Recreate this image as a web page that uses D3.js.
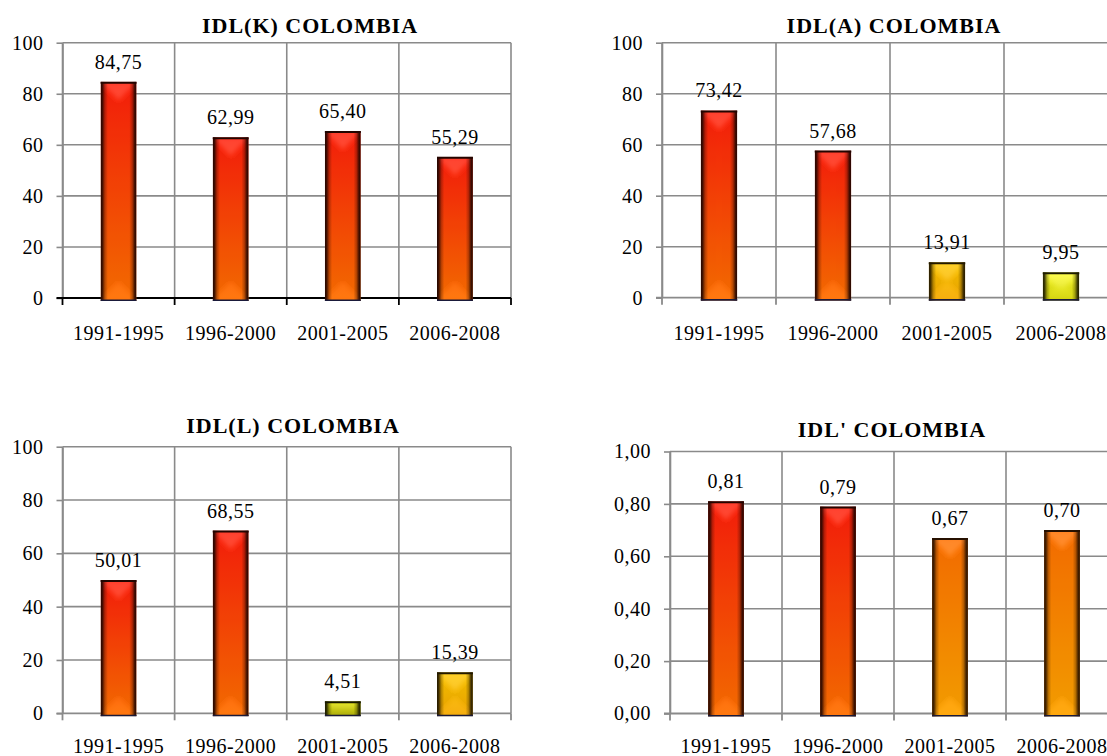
<!DOCTYPE html>
<html>
<head>
<meta charset="utf-8">
<script src="https://cdn.jsdelivr.net/npm/d3@7"></script>
<style>
  html, body { margin: 0; padding: 0; background: #fff; }
  svg { display: block; font-family: "Liberation Serif", "Times New Roman", serif; }
</style>
</head>
<body>
<svg id="chart" width="1107" height="756"></svg>
<script>
// Periods shown on every category axis
const periods = ["1991-1995", "1996-2000", "2001-2005", "2006-2008"];

// Index values per period
const idlK = [84.75, 62.99, 65.40, 55.29];
const idlA = [73.42, 57.68, 13.91, 9.95];
const idlL = [50.01, 68.55, 4.51, 15.39];
const idlPrime = [0.81, 0.79, 0.67, 0.70];

// Value-axis ticks
const pctTicks = [0, 20, 40, 60, 80, 100];
const ratioTicks = [0, 0.2, 0.4, 0.6, 0.8, 1.0];

// Spanish-style number formatting (decimal comma)
const es = d3.formatLocale({ decimal: ",", thousands: ".", grouping: [3], currency: ["", " $"] });
const fmt0 = es.format("d");
const fmt2 = es.format(".2f");

const SERIF = "Liberation Serif";

// Bar fill tones (top -> bottom of the bar)
const tones = {
  red:    { top: "#ff1e0a", bot: "#ff7000", edge: "#220500" },
  orange: { top: "#ff7000", bot: "#ffa400", edge: "#261000" },
  gold:   { top: "#ffc800", bot: "#f5a800", edge: "#221800" },
  yellow: { top: "#ffff30", bot: "#d0d000", edge: "#1e1c00" },
  olive:  { top: "#e6e600", bot: "#a4a400", edge: "#181800" }
};

const panels = [
  { title: "IDL(K) COLOMBIA", values: idlK, ticks: pctTicks, tickFmt: fmt0,
    tones: ["red", "red", "red", "red"],
    box: { l: 62.5, r: 511, t: 42.7, b: 298 }, titleX: 310, titleY: 33, labelY: 340, baseColor: "#000" },
  { title: "IDL(A) COLOMBIA", values: idlA, ticks: pctTicks, tickFmt: fmt0,
    tones: ["red", "red", "gold", "yellow"],
    box: { l: 662, r: 1118, t: 42.7, b: 297.7 }, titleX: 894, titleY: 33, labelY: 340, baseColor: "#8a8a8a" },
  { title: "IDL(L) COLOMBIA", values: idlL, ticks: pctTicks, tickFmt: fmt0,
    tones: ["red", "red", "olive", "gold"],
    box: { l: 62.5, r: 511, t: 446.7, b: 713.3 }, titleX: 293, titleY: 433, labelY: 753, baseColor: "#8a8a8a" },
  { title: "IDL' COLOMBIA", values: idlPrime, ticks: ratioTicks, tickFmt: fmt2,
    tones: ["red", "red", "orange", "orange"],
    box: { l: 670, r: 1118, t: 451.5, b: 713.5 }, titleX: 892, titleY: 437, labelY: 753, baseColor: "#8a8a8a" }
];

const svg = d3.select("#chart");
const defs = svg.append("defs");

// Vertical colour ramps and side shading for each tone
Object.entries(tones).forEach(([name, t]) => {
  const g = defs.append("linearGradient").attr("id", "fill-" + name)
    .attr("x1", 0).attr("y1", 0).attr("x2", 0).attr("y2", 1);
  g.append("stop").attr("offset", "0%").attr("stop-color", t.top);
  g.append("stop").attr("offset", "100%").attr("stop-color", t.bot);

  const s = defs.append("linearGradient").attr("id", "shade-" + name)
    .attr("x1", 0).attr("y1", 0).attr("x2", 1).attr("y2", 0);
  [[0, 1], [0.05, 0.85], [0.12, 0.3], [0.2, 0], [0.8, 0], [0.88, 0.3], [0.95, 0.85], [1, 1]]
    .forEach(([o, a]) => s.append("stop").attr("offset", o).attr("stop-color", t.edge).attr("stop-opacity", a));
});

// Soft bevel blur
defs.append("filter").attr("id", "soft").attr("x", "-20%").attr("y", "-20%").attr("width", "140%").attr("height", "140%")
  .append("feGaussianBlur").attr("stdDeviation", 2.2);

const gridColor = "#8a8a8a";

panels.forEach((p, pi) => {
  const { l, r, t, b } = p.box;
  const g = svg.append("g").attr("class", "panel");

  const x = d3.scaleBand().domain(periods).range([l, r]).paddingInner(0).paddingOuter(0);
  const yMax = p.ticks[p.ticks.length - 1];
  const y = d3.scaleLinear().domain([0, yMax]).range([b, t]);

  // Title
  g.append("text")
    .attr("x", p.titleX).attr("y", p.titleY)
    .attr("text-anchor", "middle")
    .attr("font-family", SERIF).attr("font-size", 22).attr("font-weight", "bold")
    .attr("letter-spacing", 1)
    .text(p.title);

  // Horizontal gridlines
  g.append("g").selectAll("line").data(p.ticks.slice(1)).join("line")
    .attr("x1", l).attr("x2", r)
    .attr("y1", d => y(d)).attr("y2", d => y(d))
    .attr("stroke", gridColor).attr("stroke-width", 1.6);

  // Vertical gridlines at category boundaries
  const bounds = periods.map(c => x(c)).concat([x.range()[1]]);
  g.append("g").selectAll("line").data(bounds).join("line")
    .attr("x1", d => d).attr("x2", d => d)
    .attr("y1", t).attr("y2", b)
    .attr("stroke", gridColor).attr("stroke-width", 1.6);

  // Value axis with tick labels
  const yAxis = d3.axisLeft(y).tickValues(p.ticks).tickFormat(p.tickFmt)
    .tickSize(6).tickSizeOuter(0).tickPadding(13);
  const ya = g.append("g").attr("transform", `translate(${l},0)`).call(yAxis)
    .attr("font-family", SERIF).attr("font-size", 20);
  ya.select(".domain").attr("stroke", gridColor).attr("stroke-width", 1.6);
  ya.selectAll(".tick line").attr("stroke", gridColor).attr("stroke-width", 1.6);
  ya.selectAll(".tick text").attr("fill", "#000").attr("letter-spacing", 0.5);

  // Category baseline with boundary ticks
  const base = g.append("g");
  base.append("line").attr("x1", l - 6).attr("x2", r).attr("y1", b).attr("y2", b)
    .attr("stroke", p.baseColor).attr("stroke-width", 1.8);
  base.selectAll("line.tk").data(bounds).join("line").attr("class", "tk")
    .attr("x1", d => d).attr("x2", d => d).attr("y1", b).attr("y2", b + 7)
    .attr("stroke", p.baseColor).attr("stroke-width", 1.8);

  // Category labels
  g.append("g").selectAll("text").data(periods).join("text")
    .attr("x", d => x(d) + x.bandwidth() / 2).attr("y", p.labelY)
    .attr("text-anchor", "middle")
    .attr("font-family", SERIF).attr("font-size", 20).attr("letter-spacing", 0.5)
    .text(d => d);

  // Bars
  const bw = x.bandwidth() * 0.32;
  const bars = g.append("g").selectAll("g")
    .data(p.values.map((v, i) => ({ v, c: periods[i], tone: p.tones[i], i })))
    .join("g");

  bars.each(function (d) {
    const sel = d3.select(this);
    const bx = x(d.c) + (x.bandwidth() - bw) / 2;
    const by = y(d.v);
    const bh = y(0) - by + 3;
    const clipId = `clip-${pi}-${d.i}`;
    defs.append("clipPath").attr("id", clipId)
      .append("rect").attr("x", bx).attr("y", by).attr("width", bw).attr("height", bh);

    const inner = sel.append("g").attr("clip-path", `url(#${clipId})`);
    inner.append("rect").attr("x", bx).attr("y", by).attr("width", bw).attr("height", bh)
      .attr("fill", `url(#fill-${d.tone})`);

    // Bevel facets
    const s = Math.min(bw / 2, bh / 2, 18);
    const bev = inner.append("g").attr("filter", "url(#soft)");
    const face = (pts, col, op) => bev.append("polygon")
      .attr("points", pts.map(q => q.join(",")).join(" "))
      .attr("fill", col).attr("fill-opacity", op);
    face([[bx, by], [bx + bw, by], [bx + bw - s, by + s], [bx + s, by + s]], "#ffffff", 0.16);
    face([[bx, by + bh], [bx + bw, by + bh], [bx + bw - s, by + bh - s], [bx + s, by + bh - s]], "#ffffff", 0.06);
    face([[bx, by], [bx + s, by + s], [bx + s, by + bh - s], [bx, by + bh]], "#000000", 0.05);
    face([[bx + bw, by], [bx + bw - s, by + s], [bx + bw - s, by + bh - s], [bx + bw, by + bh]], "#000000", 0.05);

    // Dark rounded edges
    inner.append("rect").attr("x", bx).attr("y", by).attr("width", bw).attr("height", bh)
      .attr("fill", `url(#shade-${d.tone})`);

    // Top and bottom rims
    sel.append("line").attr("x1", bx).attr("x2", bx + bw).attr("y1", by + 1).attr("y2", by + 1)
      .attr("stroke", tones[d.tone].edge).attr("stroke-width", 2);
    sel.append("line").attr("x1", bx).attr("x2", bx + bw).attr("y1", by + bh - 0.8).attr("y2", by + bh - 0.8)
      .attr("stroke", "#1a1a3a").attr("stroke-width", 1.6);

    // Value label
    sel.append("text")
      .attr("x", bx + bw / 2).attr("y", by - 13)
      .attr("text-anchor", "middle")
      .attr("font-family", SERIF).attr("font-size", 20).attr("letter-spacing", 0.5)
      .text(fmt2(d.v));
  });
});
</script>
</body>
</html>
